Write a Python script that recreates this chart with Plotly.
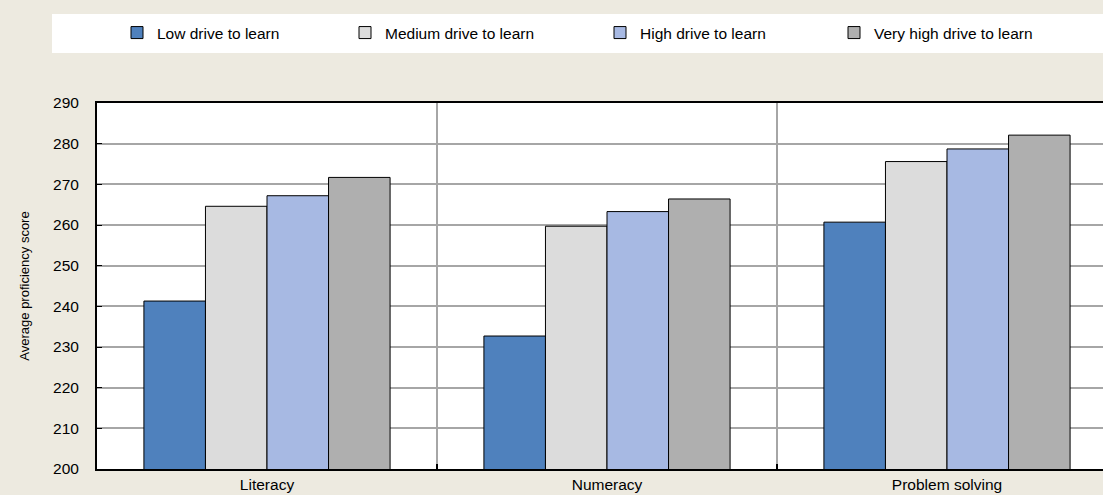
import plotly.graph_objects as go

categories = ["Literacy", "Numeracy", "Problem solving"]
series_names = ["Low drive to learn", "Medium drive to learn", "High drive to learn", "Very high drive to learn"]
low = [241.3, 232.7, 260.7]
medium = [264.6, 259.7, 275.6]
high = [267.2, 263.3, 278.7]
very_high = [271.7, 266.4, 282.1]
y_ticks = list(range(200, 291, 10))

values = [low, medium, high, very_high]
colors = ["#4F81BD", "#DCDCDC", "#A7B9E3", "#AFAFAF"]
legend_ids = ["legend", "legend2", "legend3", "legend4"]
legend_text_x = [157, 385, 640, 874]

W, H = 1103, 495
ML, MT, MB, MR = 97, 103, 26, 0
plot_w = W - ML - MR
plot_h = H - MT - MB
bg = "#EDEAE0"
FONT = "Liberation Sans, Arial, sans-serif"

fig = go.Figure()
for name, vals, col, lid in zip(series_names, values, colors, legend_ids):
    fig.add_trace(go.Bar(
        x=categories, y=vals, name=name, legend=lid,
        marker=dict(color=col, line=dict(color="#000000", width=1)),
    ))

legend_common = dict(
    orientation="h", bgcolor="rgba(0,0,0,0)", borderwidth=0,
    font=dict(family=FONT, size=15.5, color="#000000"),
    xref="container", yref="container", yanchor="middle", y=1 - 33 / H,
    xanchor="left",
)
layout_legends = {}
for lid, tx in zip(legend_ids, legend_text_x):
    layout_legends[lid] = dict(legend_common, x=(tx - 40) / W)

# white legend band
fig.add_shape(type="rect", xref="paper", yref="paper",
              x0=(52 - ML) / plot_w, x1=1.0,
              y0=(H - MB - 53) / plot_h, y1=(H - MB - 14) / plot_h,
              fillcolor="#FFFFFF", line=dict(width=0), layer="below")

n_visible = plot_w / 340.0
fig.update_layout(
    width=W, height=H,
    margin=dict(l=ML, r=MR, t=MT, b=MB, pad=0),
    paper_bgcolor=bg, plot_bgcolor="#FFFFFF",
    barmode="group", bargap=0.276, bargroupgap=0,
    showlegend=True,
    font=dict(family=FONT, size=15.5, color="#000000"),
    **layout_legends,
)
fig.update_xaxes(
    type="category", range=[-0.5, -0.5 + n_visible],
    tickson="boundaries", showgrid=True, gridcolor="#A6A6A6", gridwidth=1.5,
    ticks="inside", ticklen=5, tickcolor="#000000", tickwidth=2,
    showline=True, linecolor="#000000", linewidth=2, mirror=True,
    tickfont=dict(size=15.5), zeroline=False,
)
fig.update_yaxes(
    range=[200, 290], tickvals=y_ticks, ticktext=[str(v) for v in y_ticks],
    showgrid=True, gridcolor="#A6A6A6", gridwidth=1.5,
    ticks="inside", ticklen=5, tickcolor="#000000", tickwidth=1,
    showline=True, linecolor="#000000", linewidth=2, mirror=False,
    tickfont=dict(size=15.5), ticklabelstandoff=13, zeroline=False,
    title=dict(text="Average proficiency score", font=dict(size=13), standoff=20),
)

fig.write_html("out.html",
               config={"displayModeBar": False},
               post_script="document.body.style.margin='0';document.body.style.padding='0';")
